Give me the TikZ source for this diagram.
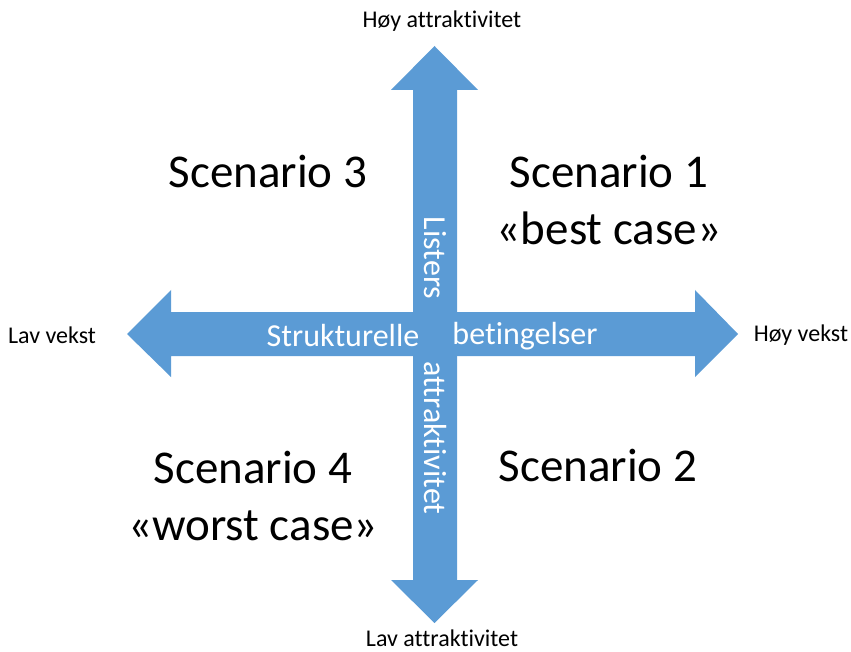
\documentclass[tikz,border=0pt]{standalone}
\usepackage{fontspec}
\setmainfont[RawFeature={-liga}]{Carlito}
\usepackage{xcolor}
\usetikzlibrary{positioning}
\definecolor{axisblue}{HTML}{5B9BD5}

\begin{document}
\begin{tikzpicture}[
    x=1pt,y=-1pt,
    axis/.style={fill=axisblue,draw=none},
    inarrow/.style={text=white,font=\fontsize{32}{36}\selectfont,inner sep=0pt},
    scen/.style={font=\fontsize{47}{57}\selectfont,align=center,inner sep=0pt},
    pole/.style={font=\fontsize{24}{28}\selectfont,inner sep=0pt}
]
\useasboundingbox (0,0) rectangle (851,652);
% horizontal axis
\fill[axis] (127,334) -- (171,290) -- (171,312) -- (695,312) -- (695,290) -- (738,334)
    -- (695,377) -- (695,356) -- (171,356) -- (171,377) -- cycle;
% vertical axis
\fill[axis] (434.5,46) -- (478,90) -- (457,90) -- (457,580) -- (478,580) -- (434.5,623)
    -- (391,580) -- (413,580) -- (413,90) -- (391,90) -- cycle;
\node[inarrow] (struk) at (343,336) {Strukturelle};
\node[inarrow] (beting) at (525,336) {betingelser};
\node[inarrow,rotate=-90] (listers) at (435,258) {Listers};
\node[inarrow,rotate=-90] (attrak) at (435,438) {attraktivitet};
\node[pole] (hoyattr) at (442,21) {Høy attraktivitet};
\node[pole] (lavattr) at (442,638) {Lav attraktivitet};
\node[pole] (lavvekst) at (52,335) {Lav vekst};
\node[pole] (hoyvekst) at (801,335) {Høy vekst};
\node[scen] (sc3) at (268,172) {Scenario 3};
\node[scen] (sc1) at (609,200) {Scenario 1\\«best case»};
\node[scen] (sc4) at (253,496) {Scenario 4\\«worst case»};
\node[scen] (sc2) at (598,466) {Scenario 2};
\end{tikzpicture}
\end{document}
